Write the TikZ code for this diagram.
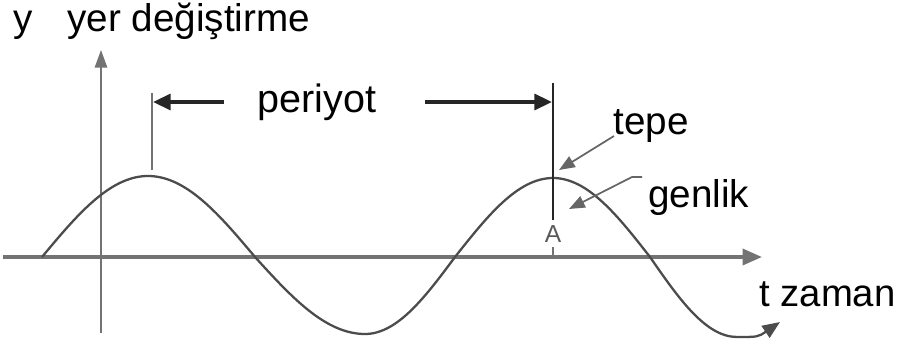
\documentclass[tikz,border=0pt]{standalone}
\usepackage{fontspec}
\setmainfont{Liberation Sans}
\usetikzlibrary{arrows.meta}

\begin{document}
\begin{tikzpicture}[x=0.02cm, y=-0.02cm, lbl/.style={inner sep=0pt, anchor=base west, font=\fontsize{22}{26}\selectfont}, axis/.style={draw=black!55}, wave/.style={draw=black!70, line width=1.3pt}, lead/.style={draw=black!60, line width=1pt, -{Triangle[length=9pt, width=7pt]}}, per/.style={draw=black!85, line width=2pt, -{Triangle[length=10pt, width=9pt]}}]
	\useasboundingbox (0,0) rectangle (898,347);
	\node[lbl] (y) at (13,32) {y};
	\node[lbl] (yer) at (67,32) {yer değiştirme};
	\node[lbl, font=\fontsize{22.5}{26}\selectfont] (periyot) at (257,113) {periyot};
	\node[lbl] (tepe) at (613,135) {tepe};
	\node[lbl] (genlik) at (648,208) {genlik};
	\node[lbl, font=\fontsize{21.8}{26}\selectfont] (zaman) at (759,306) {t zaman};
	\node[inner sep=0pt, font=\fontsize{14}{16}\selectfont, text=black!65] (A) at (553,234) {A};
	\coordinate (o) at (101,257);
	\coordinate (xs) at (3,257); \coordinate (xe) at (762,257);
	\coordinate (ys) at (101,333); \coordinate (ye) at (101,50);
	\draw[axis, line width=2.2pt, -{Triangle[length=11pt, width=9pt]}] (xs) -- (xe);
	\draw[axis, line width=1.1pt, -{Triangle[length=10pt, width=7pt]}] (ys) -- (ye);
	\draw[wave, -{Triangle[length=10pt, width=8pt]}] (42,257) sin (148,176) cos (255,257) sin (365,334) cos (455,257) sin (553,178) cos (650,257) sin (737,337) .. controls (758,337) .. (780,322);
	\coordinate (p1) at (152,93); \coordinate (p1b) at (152,170);
	\coordinate (p2) at (553,83); \coordinate (p2b) at (553,220);
	\draw[axis, line width=1.1pt] (p1) -- (p1b);
	\draw[draw=black!85, line width=1.6pt] (p2) -- (p2b);
	\draw[axis, line width=1.1pt] (A.south |- 0,247) -- (A.south |- o);
	\coordinate (la) at (224,102); \coordinate (lb) at (153,102);
	\coordinate (ra) at (425,102); \coordinate (rb) at (552,102);
	\draw[per] (la) -- (lb);
	\draw[per] (ra) -- (rb);
	\coordinate (t1) at (614,136); \coordinate (t2) at (559,170);
	\draw[lead] (t1) -- (t2);
	\coordinate (g0) at (642,177); \coordinate (g1) at (632,177); \coordinate (g2) at (569,209);
	\draw[lead] (g0) -- (g1) -- (g2);
\end{tikzpicture}
\end{document}
